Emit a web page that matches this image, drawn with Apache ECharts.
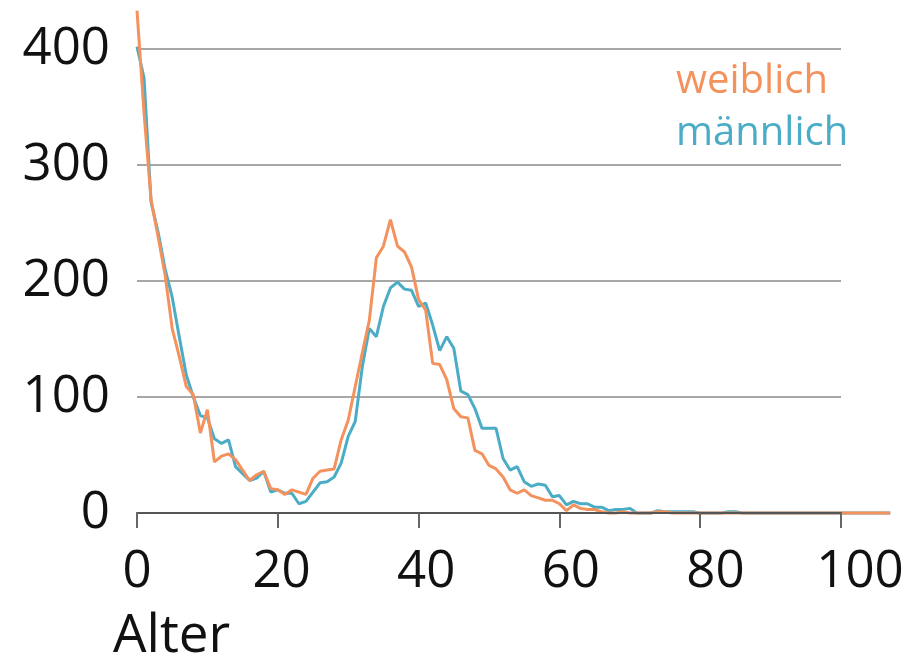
<!DOCTYPE html>
<html>
<head>
<meta charset="utf-8">
<script src="https://cdn.jsdelivr.net/npm/echarts@6/dist/echarts.min.js"></script>
<style>
html,body{margin:0;padding:0;background:#fff;}
#chart{width:917px;height:661px;}
</style>
</head>
<body>
<div id="chart"></div>
<script>
// Ages 0..107 (index = age)
const weiblich = [433,345,270,238,205,159,135,109,102,69,
  89,44,49,51,46,37,28,33,36,21,
  20,16,20,18,16,30,36,37,38,63,
  80,109,138,166,220,230,253,230,225,212,
  184,175,129,128,115,90,83,82,54,51,
  41,38,31,20,17,20,15,13,11,11,
  8,2,7,4,3,3,1,0,0,1,
  0,0,0,0,1,1,0,0,0,0,
  0,0,0,0,0,0,0,0,0,0,
  0,0,0,0,0,0,0,0,0,0,
  0,0,0,0,0,0,0,0];
const maennlich = [402,375,268,242,210,186,152,119,100,84,
  82,64,60,63,40,34,28,30,36,18,
  20,17,17,8,10,18,26,27,31,43,
  66,79,126,159,152,178,194,199,193,192,
  178,181,162,140,152,142,105,102,90,73,
  73,73,47,37,40,27,23,25,24,14,
  15,7,10,8,8,5,5,2,3,3,
  4,0,0,0,2,1,1,1,1,1,
  0,0,0,0,1,1,0,0,0,0,
  0,0,0,0,0,0,0,0,0,0,
  0,0,0,0,0,0,0,0];
const xTicks = [0,20,40,60,80,100];
const yTicks = [0,100,200,300,400];
const seriesNames = ['weiblich','männlich'];
const axisName = 'Alter';

const ORANGE = '#F4925E';
const BLUE = '#4BACC6';
const FONT = 'Open Sans';

const xMax = xTicks[xTicks.length-1];
const dataMax = weiblich.length - 1;
const plotLeft = 137, plotTop = 49, plotBottom = 148, plotWidth = 704;
const labelWidth = 723; // tick labels in the original sit on a slightly wider scale
const pxPerYear = plotWidth / xMax;

const chart = echarts.init(document.getElementById('chart'));
chart.setOption({
  animation:false,
  backgroundColor:'#fff',
  grid:[
    {left:plotLeft,top:plotTop,bottom:plotBottom,width:pxPerYear*dataMax,containLabel:false},
    {left:plotLeft,top:plotTop,bottom:plotBottom,width:plotWidth,containLabel:false},
    {left:plotLeft,top:plotTop,bottom:plotBottom,width:labelWidth,containLabel:false}
  ],
  legend:{
    orient:'vertical',left:666,top:57,itemWidth:0,itemHeight:0,itemGap:12,
    icon:'none',selectedMode:false,
    data:[
      {name:seriesNames[0],textStyle:{color:ORANGE}},
      {name:seriesNames[1],textStyle:{color:BLUE}}
    ],
    textStyle:{fontFamily:FONT,fontSize:40,padding:0}
  },
  xAxis:[
    {gridIndex:0,type:'value',min:0,max:dataMax,show:false},
    {gridIndex:1,type:'value',min:xTicks[0],max:xMax,interval:xTicks[1]-xTicks[0],
     z:10,
     axisLine:{show:true,lineStyle:{color:'#555',width:2}},
     axisTick:{show:true,length:15,lineStyle:{color:'#666',width:2}},
     axisLabel:{show:false},
     splitLine:{show:false}},
    {gridIndex:2,type:'value',min:xTicks[0],max:xMax,interval:xTicks[1]-xTicks[0],
     axisLine:{show:false},axisTick:{show:false},splitLine:{show:false},
     axisLabel:{fontFamily:FONT,fontSize:51,color:'#111',margin:34}}
  ],
  yAxis:[
    {gridIndex:0,type:'value',min:yTicks[0],max:yTicks[yTicks.length-1],show:false,splitLine:{show:false}},
    {gridIndex:1,type:'value',min:yTicks[0],max:yTicks[yTicks.length-1],interval:yTicks[1]-yTicks[0],
     axisLine:{show:false},axisTick:{show:false},
     axisLabel:{fontFamily:FONT,fontSize:51,color:'#111',margin:27},
     splitLine:{show:true,lineStyle:{color:'#8a8a8a',width:1.5}}},
    {gridIndex:2,type:'value',min:yTicks[0],max:yTicks[yTicks.length-1],show:false,splitLine:{show:false}}
  ],
  graphic:[{
    type:'text',left:113,top:610,
    style:{text:axisName,font:'53px "Open Sans"',fill:'#111'}
  }],
  series:[
    {name:seriesNames[1],type:'line',xAxisIndex:0,yAxisIndex:0,
     data:maennlich.map((v,i)=>[i,v]),
     showSymbol:false,symbol:'none',clip:false,color:BLUE,
     lineStyle:{color:BLUE,width:3},z:2},
    {name:seriesNames[0],type:'line',xAxisIndex:0,yAxisIndex:0,
     data:weiblich.map((v,i)=>[i,v]),
     showSymbol:false,symbol:'none',clip:false,color:ORANGE,
     lineStyle:{color:ORANGE,width:3},z:3}
  ]
});
</script>
</body>
</html>
